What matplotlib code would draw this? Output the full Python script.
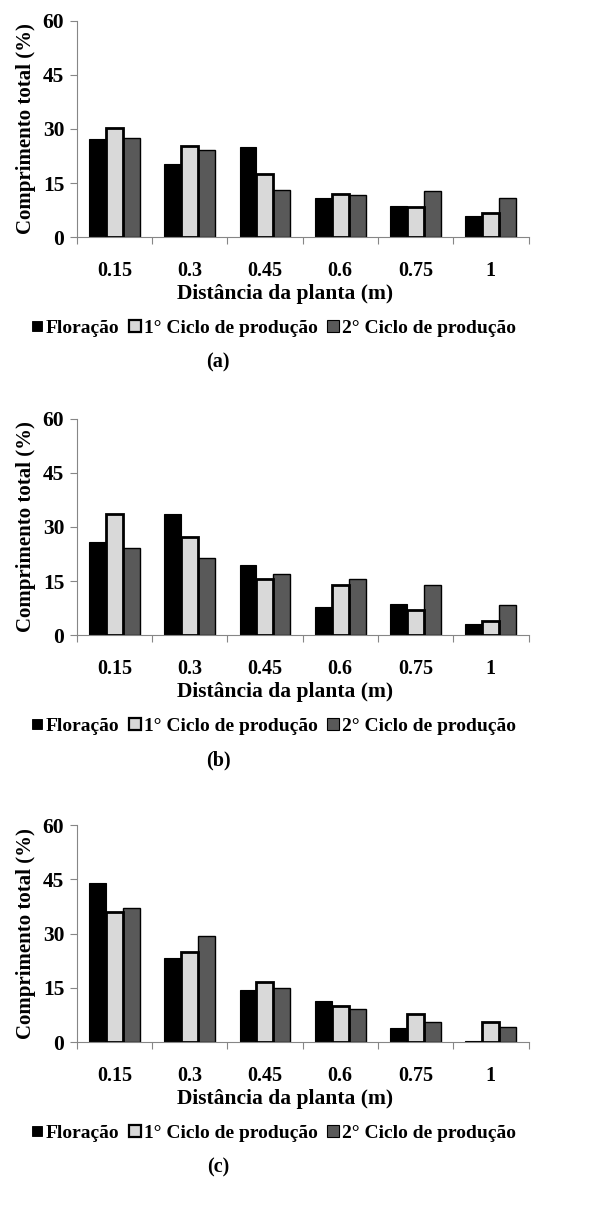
import numpy as np
import matplotlib.pyplot as plt
from matplotlib.lines import Line2D

plt.rcParams['font.family'] = ['Liberation Serif', 'DejaVu Serif']
plt.rcParams['font.weight'] = 'bold'

distances = ['0.15', '0.3', '0.45', '0.6', '0.75', '1']
series = ['Floração', '1° Ciclo de produção', '2° Ciclo de produção']
panel_labels = ['(a)', '(b)', '(c)']

floracao_a = [27.2, 20.3, 25.1, 11.0, 8.7, 5.9]
ciclo1_a = [30.4, 25.3, 17.4, 11.9, 8.5, 6.8]
ciclo2_a = [27.6, 24.2, 13.1, 11.6, 12.8, 10.9]

floracao_b = [25.9, 33.6, 19.6, 7.9, 8.6, 3.1]
ciclo1_b = [33.5, 27.2, 15.5, 13.9, 6.9, 3.9]
ciclo2_b = [24.3, 21.3, 17.1, 15.6, 13.8, 8.5]

floracao_c = [44.1, 23.3, 14.5, 11.3, 4.0, 0.4]
ciclo1_c = [35.9, 24.9, 16.5, 10.0, 7.7, 5.5]
ciclo2_c = [37.1, 29.3, 15.0, 9.1, 5.4, 4.1]

panels = [
    (floracao_a, ciclo1_a, ciclo2_a),
    (floracao_b, ciclo1_b, ciclo2_b),
    (floracao_c, ciclo1_c, ciclo2_c),
]

colors = ['#000000', '#d9d9d9', '#595959']
edge_widths = [0.8, 2.0, 1.0]
gray = '#868686'

W, H = 603, 1207
fig = plt.figure(figsize=(W / 100, H / 100), dpi=100)

axis_bottoms = [237.3, 635.3, 1042.0]  # pixel rows of the zero line
ax_h = 216.7
ax_left, ax_right = 76.7, 528.5

x = np.arange(len(distances))
bw = 0.225

for p, (vals, bottom_px) in enumerate(zip(panels, axis_bottoms)):
    ax = fig.add_axes([ax_left / W, 1 - bottom_px / H, (ax_right - ax_left) / W, ax_h / H])
    for k, v in enumerate(vals):
        ax.bar(x + (k - 1) * bw, v, width=bw, color=colors[k], edgecolor='black',
               linewidth=edge_widths[k], zorder=3 if k == 1 else 2)
    ax.set_ylim(0, 60)
    ax.set_xlim(-0.5, len(distances) - 0.5)
    ax.set_yticks([0, 15, 30, 45, 60])
    ax.tick_params(axis='y', length=5, color=gray, labelsize=15.5, pad=4)
    ax.set_xticks(np.arange(len(distances) + 1) - 0.5)
    ax.set_xticklabels([])
    ax.tick_params(axis='x', which='major', length=5, color=gray)
    ax.set_xticks(x, minor=True)
    ax.set_xticklabels(distances, minor=True, fontsize=14.5, fontweight='bold')
    ax.tick_params(axis='x', which='minor', length=0, pad=17)
    for s in ['top', 'right']:
        ax.spines[s].set_visible(False)
    for s in ['left', 'bottom']:
        ax.spines[s].set_color(gray)
    for lab in ax.get_yticklabels():
        lab.set_fontweight('bold')
    ax.set_ylabel('Comprimento total (%)', fontsize=15, fontweight='bold', labelpad=5)

    fig.text(285 / W, 1 - (bottom_px + 57) / H, 'Distância da planta (m)',
             ha='center', va='center', fontsize=15.5, fontweight='bold')

    handles = [Line2D([], [], linestyle='none', marker='s',
                      markersize=6.5 if k == 0 else 8,
                      markerfacecolor=colors[k], markeredgecolor='black',
                      markeredgewidth=edge_widths[k] * 0.8) for k in range(3)]
    fig.legend(handles, series, loc='center', ncol=3, frameon=False,
               bbox_to_anchor=(274 / W, 1 - (bottom_px + 91) / H),
               prop={'size': 14, 'weight': 'bold'},
               handlelength=0.5, handletextpad=0.2, columnspacing=0.55)

    fig.text(218 / W, 1 - (bottom_px + 125) / H, panel_labels[p],
             ha='center', va='center', fontsize=14.5, fontweight='bold')

fig.savefig('out.png', dpi=100)
